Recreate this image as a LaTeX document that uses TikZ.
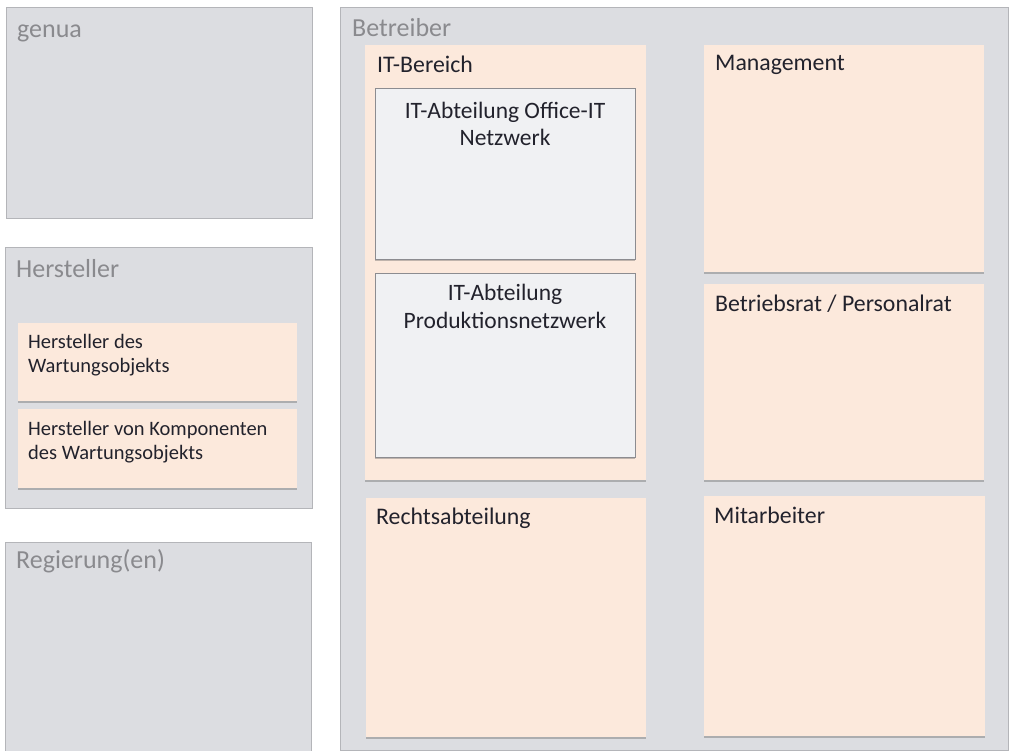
\documentclass[tikz,border=0pt]{standalone}
\usepackage{fontspec}
\setmainfont{Carlito}
\usetikzlibrary{shadows}
\definecolor{grayfill}{HTML}{DCDDE1}
\definecolor{grayline}{HTML}{B4B5B9}
\definecolor{orangefill}{HTML}{FCE9DC}
\definecolor{innerfill}{HTML}{F0F1F3}
\definecolor{innerline}{HTML}{8C8C90}
\definecolor{titlegray}{HTML}{8A8A8E}
\definecolor{darktext}{HTML}{22222C}
\tikzset{
  gbox/.style={draw=grayline, line width=0.8pt, fill=grayfill, anchor=north west, inner sep=0pt},
  obox/.style={fill=orangefill, anchor=north west, inner sep=0pt,
    drop shadow={shadow xshift=0pt, shadow yshift=-2pt, opacity=0.4, fill=black!60}},
  ibox/.style={draw=innerline, line width=0.8pt, fill=innerfill, anchor=north west, inner sep=0pt,
    drop shadow={shadow xshift=0pt, shadow yshift=-2pt, opacity=0.4, fill=black!60}},
  gtitle/.style={text=titlegray, anchor=base west, inner sep=0pt, font=\fontsize{26}{30}\selectfont},
  dtitle/.style={text=darktext, anchor=base west, inner sep=0pt, font=\fontsize{23.8}{28}\selectfont},
  stitle/.style={text=darktext, anchor=base west, inner sep=0pt, align=left, font=\fontsize{20.5}{23.5}\selectfont},
  ctitle/.style={text=darktext, anchor=base, inner sep=0pt, align=center, font=\fontsize{23.5}{27.5}\selectfont},
}
\begin{document}
\begin{tikzpicture}[x=1pt, y=-1pt]
\useasboundingbox (0,0) rectangle (1014,751);
\clip (0,0) rectangle (1014,751);
\fill[white] (0,0) rectangle (1014,751);
% left column
\node[gbox, minimum width=306, minimum height=211] (genua) at (6,7) {};
\node[gtitle] (genuaT) at (17,38) {genua};
\node[gbox, minimum width=307, minimum height=261] (herst) at (5,247) {};
\node[gtitle] (herstT) at (16,277) {Hersteller};
\node[obox, minimum width=279, minimum height=78] (hw) at (18,323) {};
\node[stitle] (hwT) at (28,372) {Hersteller des\\Wartungsobjekts};
\node[obox, minimum width=279, minimum height=79] (hk) at (18,409) {};
\node[stitle] (hkT) at (28,459) {Hersteller von Komponenten\\des Wartungsobjekts};
\node[gbox, minimum width=306, minimum height=215] (reg) at (5,542) {};
\node[gtitle] (regT) at (16,568) {Regierung(en)};
% Betreiber
\node[gbox, minimum width=668, minimum height=743] (betr) at (340,7) {};
\node[gtitle] (betrT) at (352,37) {Betreiber};
\node[obox, minimum width=281, minimum height=435] (itb) at (365,45) {};
\node[dtitle] (itbT) at (377,73) {IT-Bereich};
\node[ibox, minimum width=260, minimum height=171] (office) at (375,88) {};
\node[ctitle] (officeT) at (505,146) {IT-Abteilung Office-IT\\Netzwerk};
\node[ibox, minimum width=260, minimum height=184] (prod) at (375,273) {};
\node[ctitle] (prodT) at (505,328) {IT-Abteilung\\Produktionsnetzwerk};
\node[obox, minimum width=280, minimum height=239] (recht) at (366,498) {};
\node[dtitle] (rechtT) at (376,524) {Rechtsabteilung};
\node[obox, minimum width=280, minimum height=227] (mgmt) at (704,45) {};
\node[dtitle] (mgmtT) at (715,71) {Management};
\node[obox, minimum width=280, minimum height=196] (rat) at (704,284) {};
\node[dtitle] (ratT) at (715,311) {Betriebsrat / Personalrat};
\node[obox, minimum width=281, minimum height=240] (mit) at (704,496) {};
\node[dtitle] (mitT) at (714,523) {Mitarbeiter};
\end{tikzpicture}
\end{document}
